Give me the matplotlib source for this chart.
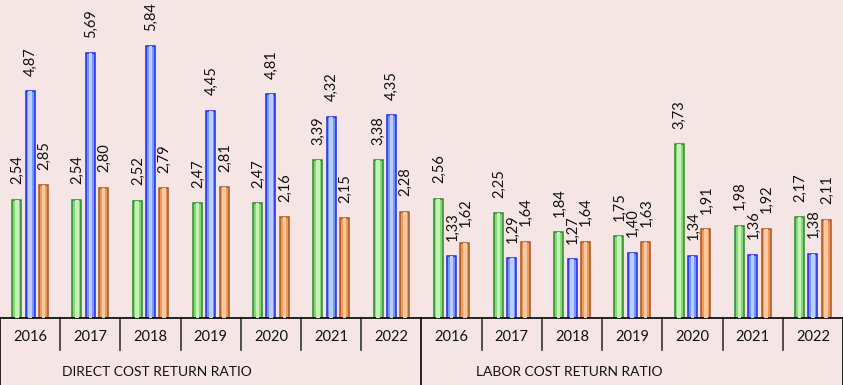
import matplotlib
matplotlib.use("Agg")
import matplotlib.pyplot as plt
import numpy as np

years = ["2016", "2017", "2018", "2019", "2020", "2021", "2022"]
groups = ["DIRECT COST RETURN RATIO", "LABOR COST RETURN RATIO"]

direct_green = [2.54, 2.54, 2.52, 2.47, 2.47, 3.39, 3.38]
direct_blue = [4.87, 5.69, 5.84, 4.45, 4.81, 4.32, 4.35]
direct_orange = [2.85, 2.80, 2.79, 2.81, 2.16, 2.15, 2.28]
labor_green = [2.56, 2.25, 1.84, 1.75, 3.73, 1.98, 2.17]
labor_blue = [1.33, 1.29, 1.27, 1.40, 1.34, 1.36, 1.38]
labor_orange = [1.62, 1.64, 1.64, 1.63, 1.91, 1.92, 2.11]

series = [
    (direct_green + labor_green, "#86d878", "#c4f2b8", "#2a8a2a"),
    (direct_blue + labor_blue, "#7499ff", "#bccfff", "#1f2ae8"),
    (direct_orange + labor_orange, "#ee9a58", "#f8c9a0", "#a85520"),
]

bg = "#f6e5e5"
plt.rcParams["font.family"] = ["Lato", "DejaVu Sans"]

fig = plt.figure(figsize=(8.43, 3.85), dpi=100)
fig.patch.set_facecolor(bg)
ax = fig.add_axes([0, 67 / 385, 1, 318 / 385])
ax.set_facecolor(bg)

n = len(years) * 2
x = np.arange(n)
spacing = 0.222
width = 0.15
offsets = [-spacing, 0, spacing]

for (vals, mid, light, edge), off in zip(series, offsets):
    ax.bar(x + off, vals, width=width, color=mid, edgecolor=edge, linewidth=1.1, zorder=2)
    ax.bar(x + off, vals, width=width * 0.4, color=light, linewidth=0, zorder=3)
    for xi, v in zip(x, vals):
        ax.annotate(f"{v:.2f}".replace(".", ","), (xi + off, v), xytext=(0.5, 11),
                    textcoords="offset points", rotation=90, ha="center", va="bottom",
                    fontsize=10.5, color="#111111", zorder=4)

ax.set_xlim(-0.5, n - 0.5)
ax.set_ylim(0, 318 / 46.6)
ax.set_xticks([])
ax.set_yticks([])
for s in ["top", "right", "left"]:
    ax.spines[s].set_visible(False)
ax.spines["bottom"].set_color("#000000")
ax.spines["bottom"].set_linewidth(1.2)

ppu = 46.6
def ydata(px_below):
    return -px_below / ppu

# year separators
for k in range(1, n):
    if k == len(years):
        continue
    ax.plot([k - 0.5, k - 0.5], [0, ydata(32)], color="#333333", lw=1.2, clip_on=False)
# group borders
for k in [0, len(years), n]:
    ax.plot([k - 0.5, k - 0.5], [0, ydata(67)], color="#000000", lw=1.2, clip_on=False)

for xi in x:
    ax.text(xi, ydata(19), years[xi % len(years)], ha="center", va="center",
            fontsize=10.5, color="#111111")

ax.text(0.53, ydata(54), groups[0], ha="left", va="center", fontsize=10, color="#111111")
ax.text(7.41, ydata(54), groups[1], ha="left", va="center", fontsize=10, color="#111111")

fig.savefig("out.png", dpi=100, facecolor=bg)
